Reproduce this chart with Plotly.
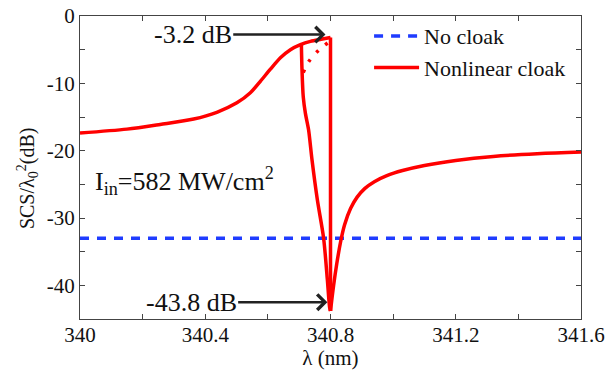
import plotly.graph_objects as go

# ---- data ----
no_cloak_x = [340.0, 341.6]
no_cloak_y = [-33.0, -33.0]

upper_x = [340.0, 340.15, 340.256, 340.363, 340.437, 340.501, 340.544, 340.576,
           340.608, 340.64, 340.672, 340.704, 340.736, 340.77, 340.8]
upper_y = [-17.37, -16.8, -16.1, -15.3, -14.3, -12.9, -11.4, -9.7,
           -7.9, -6.2, -5.0, -4.25, -3.76, -3.45, -3.2]

drop_x = [340.8, 340.8]
drop_y = [-3.2, -43.8]

right_x = [340.8, 340.81, 340.82, 340.832, 340.845, 340.864, 340.885, 340.91,
           340.94, 340.98, 341.03, 341.1, 341.2, 341.32, 341.46, 341.6]
right_y = [-43.8, -40.0, -36.8, -33.6, -31.0, -28.6, -26.9, -25.6,
           -24.6, -23.7, -22.95, -22.2, -21.45, -20.85, -20.45, -20.2]

lower_x = [340.707, 340.709, 340.713, 340.72, 340.73, 340.741, 340.758, 340.778,
           340.79, 340.797, 340.8]
lower_y = [-4.25, -8.0, -12.0, -14.5, -16.9, -21.4, -27.3, -33.0,
           -39.2, -43.2, -43.8]

unstable_x = [340.713, 340.73, 340.762, 340.794]
unstable_y = [-8.4, -6.8, -5.1, -3.9]

x_ticks = [340.0, 340.2, 340.4, 340.6, 340.8, 341.0, 341.2, 341.4, 341.6]
x_labels = ["340", "", "340.4", "", "340.8", "", "341.2", "", "341.6"]
y_ticks = [-45, -40, -35, -30, -25, -20, -15, -10, -5, 0]
y_labels = ["", "-40", "", "-30", "", "-20", "", "-10", "", "0"]

FONT = "Liberation Serif"
RED = "#ff0000"
BLUE = "#1f3cff"
LW = 3.5

fig = go.Figure()
fig.add_trace(go.Scatter(x=no_cloak_x, y=no_cloak_y, mode="lines", name="No cloak",
                         line=dict(color=BLUE, width=LW, dash="9px,8px")))
fig.add_trace(go.Scatter(x=upper_x, y=upper_y, mode="lines", name="Nonlinear cloak",
                         legendgroup="nl",
                         line=dict(color=RED, width=LW, shape="spline", smoothing=0.8)))
fig.add_trace(go.Scatter(x=drop_x, y=drop_y, mode="lines", showlegend=False,
                         legendgroup="nl", line=dict(color=RED, width=LW)))
fig.add_trace(go.Scatter(x=right_x, y=right_y, mode="lines", showlegend=False,
                         legendgroup="nl",
                         line=dict(color=RED, width=LW, shape="spline", smoothing=1.0)))
fig.add_trace(go.Scatter(x=lower_x, y=lower_y, mode="lines", showlegend=False,
                         legendgroup="nl",
                         line=dict(color=RED, width=LW, shape="spline", smoothing=0.8)))
fig.add_trace(go.Scatter(x=unstable_x, y=unstable_y, mode="lines", showlegend=False,
                         legendgroup="nl",
                         line=dict(color=RED, width=LW, dash="3px,9px", shape="spline")))

axis_common = dict(showline=True, linecolor="#444", linewidth=1, mirror="ticks",
                   ticks="inside", ticklen=5, tickcolor="#444", tickwidth=1,
                   showgrid=False, zeroline=False, automargin=False,
                   tickfont=dict(family=FONT, size=21, color="#111"))

fig.update_xaxes(range=[340.0, 341.6], tickvals=x_ticks, ticktext=x_labels,
                 ticklabelstandoff=-3,
                 title=dict(text="λ (nm)", font=dict(family=FONT, size=21, color="#111"),
                            standoff=3),
                 **axis_common)
fig.update_yaxes(range=[-45, 0], tickvals=y_ticks, ticktext=y_labels,
                 ticklabelstandoff=0,
                 **axis_common)

# y-axis title placed as rotated text
fig.add_annotation(x=-0.1038, y=0.465, xref="paper", yref="paper",
                   text="SCS/λ<sub>0</sub><sup>2</sup>(dB)", textangle=-90,
                   font=dict(family=FONT, size=20, color="#111"), showarrow=False,
                   xanchor="center", yanchor="middle")

ann_font = dict(family=FONT, size=26, color="#111")
fig.add_annotation(x=340.784, y=-2.76, ax=340.36, ay=-2.76, axref="x", ayref="y",
                   xref="x", yref="y", text="-3.2 dB", font=ann_font, showarrow=True,
                   arrowhead=4, arrowsize=1.2, arrowwidth=2.5, arrowcolor="#222")
fig.add_annotation(x=340.79, y=-42.5, ax=340.355, ay=-42.5, axref="x", ayref="y",
                   xref="x", yref="y", text="-43.8 dB", font=ann_font, showarrow=True,
                   arrowhead=4, arrowsize=1.2, arrowwidth=2.5, arrowcolor="#222")
fig.add_annotation(x=340.042, y=-24.5, xref="x", yref="y", xanchor="left", yanchor="middle",
                   text="I<sub>in</sub>=582 MW/cm<sup>2</sup>", font=ann_font, showarrow=False)

fig.update_layout(
    width=613, height=370,
    margin=dict(l=80, r=32, t=16, b=51),
    paper_bgcolor="white", plot_bgcolor="white",
    font=dict(family=FONT, color="#111"),
    legend=dict(x=0.577, y=1.003, xanchor="left", yanchor="top",
                bgcolor="rgba(0,0,0,0)", borderwidth=0, itemwidth=45,
                font=dict(family=FONT, size=22, color="#111"), tracegroupgap=0),
    showlegend=True,
)

fig.write_html("out.html")
